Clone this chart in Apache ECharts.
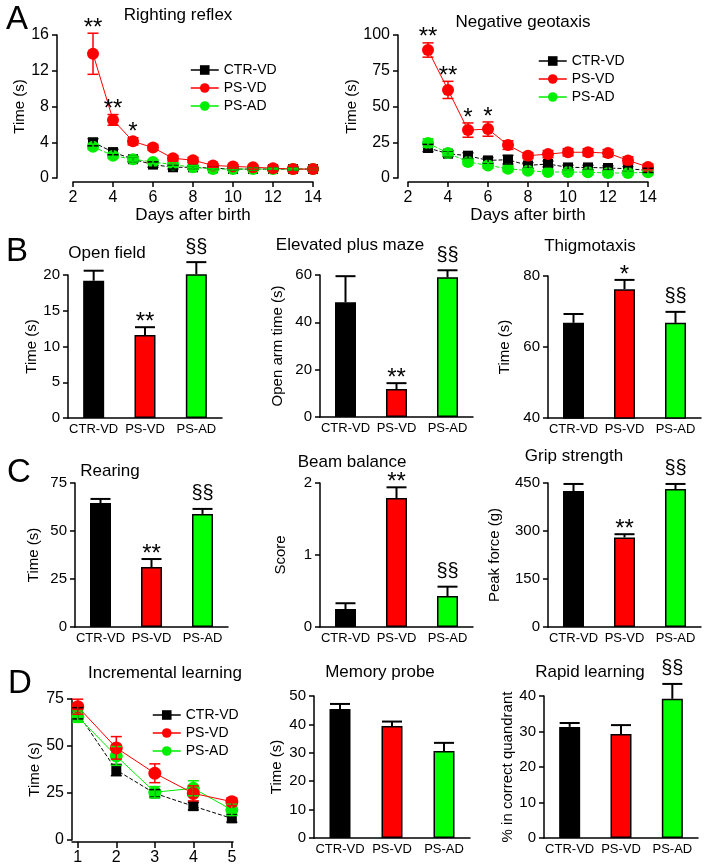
<!DOCTYPE html>
<html>
<head>
<meta charset="utf-8">
<script src="https://cdn.jsdelivr.net/npm/echarts@6/dist/echarts.min.js"></script>
<style>
html, body { margin: 0; background: #fff; }
#chart { width: 705px; height: 866px; }
</style>
</head>
<body>
<div id="chart"></div>
<script>
var groups = ['CTR-VD', 'PS-VD', 'PS-AD'];
var groupColors = ['#000000', '#ff0000', '#00ff00'];

// A - developmental reflexes, days after birth
var days = [3, 4, 5, 6, 7, 8, 9, 10, 11, 12, 13, 14];
var rrCtr = [4.0, 2.9, 2.1, 1.5, 1.2, 1.2, 1.1, 1.0, 1.0, 1.0, 1.0, 1.0];
var rrCtrErr = [0.4, 0.3, 0.3, 0.3, 0.2, 0.2, 0.1, 0.1, 0.1, 0.1, 0.1, 0.1];
var rrPsvd = [13.9, 6.5, 4.1, 3.4, 2.2, 2.0, 1.4, 1.3, 1.2, 1.1, 1.0, 1.0];
var rrPsvdErr = [2.3, 0.6, 0.4, 0.3, 0.3, 0.3, 0.2, 0.2, 0.2, 0.3, 0.3, 0.1];
var rrPsad = [3.5, 2.5, 2.1, 1.8, 1.5, 1.2, 1.0, 1.0, 1.0, 1.0, 1.0, 1.0];
var rrPsadErr = [0.3, 0.3, 0.3, 0.2, 0.2, 0.2, 0.1, 0.1, 0.1, 0.1, 0.1, 0.1];
var rrSig = ['**', '**', '*', '', '', '', '', '', '', '', '', ''];

var ngCtr = [21.0, 17.0, 15.6, 12.3, 12.8, 8.8, 9.8, 7.4, 7.4, 7.0, 6.5, 5.3];
var ngCtrErr = [2.5, 2.0, 2.0, 2.0, 3.0, 2.0, 2.0, 1.5, 1.5, 1.5, 1.5, 1.5];
var ngPsvd = [89.5, 61.6, 33.5, 34.2, 23.0, 15.6, 16.7, 18.0, 18.0, 17.4, 12.3, 7.7];
var ngPsvdErr = [5.0, 6.0, 5.0, 5.0, 3.0, 2.0, 2.5, 2.5, 2.5, 2.5, 2.5, 2.0];
var ngPsad = [24.4, 17.4, 11.2, 8.8, 6.5, 5.1, 4.2, 4.2, 4.0, 3.5, 3.5, 4.0];
var ngPsadErr = [3.0, 2.0, 2.0, 2.0, 2.0, 1.5, 1.5, 1.5, 1.5, 1.5, 1.5, 1.5];
var ngSig = ['**', '**', '*', '*', '', '', '', '', '', '', '', ''];

// B
var openField = [19.2, 11.6, 20.1];
var openFieldErr = [1.4, 1.1, 1.7];
var openFieldSig = ['', '**', '§§'];
var plusMaze = [48.5, 11.8, 59.0];
var plusMazeErr = [11.0, 2.5, 3.0];
var plusMazeSig = ['', '**', '§§'];
var thigmo = [66.8, 76.3, 66.8];
var thigmoErr = [2.5, 2.6, 3.1];
var thigmoSig = ['', '*', '§§'];

// C
var rearing = [64.6, 31.2, 58.9];
var rearingErr = [2.1, 4.2, 2.6];
var rearingSig = ['', '**', '§§'];
var beam = [0.25, 1.79, 0.43];
var beamErr = [0.08, 0.15, 0.13];
var beamSig = ['', '**', '§§'];
var grip = [425, 280, 431];
var gripErr = [22, 10, 16];
var gripSig = ['', '**', '§§'];

// D
var trials = [1, 2, 3, 4, 5];
var incCtr = [67.4, 37.2, 24.8, 18.0, 11.5];
var incCtrErr = [3.0, 3.0, 2.0, 2.0, 2.0];
var incPsvd = [70.9, 49.0, 35.5, 24.8, 20.4];
var incPsvdErr = [4.0, 6.0, 5.0, 4.0, 2.0];
var incPsad = [65.6, 44.7, 25.4, 27.5, 16.0];
var incPsadErr = [3.0, 5.0, 3.0, 4.0, 3.0];
var memory = [45.4, 39.4, 30.6];
var memoryErr = [1.8, 1.6, 2.9];
var memorySig = ['', '', ''];
var rapid = [31.3, 29.3, 39.2];
var rapidErr = [1.1, 2.5, 4.2];
var rapidSig = ['', '', '§§'];

var FONT = 'Arial, "Liberation Sans", sans-serif';
var grids = [], xAxes = [], yAxes = [], series = [], graphics = [];

function axisBase(fontSize) {
	return {
		axisLine: { show: true, onZero: false, lineStyle: { color: '#000', width: 1.5 } },
		axisTick: { show: true, length: 5, lineStyle: { color: '#000', width: 1.5 } },
		axisLabel: { color: '#000', fontFamily: FONT, fontSize: fontSize },
		splitLine: { show: false },
		nameTextStyle: { color: '#000', fontFamily: FONT, fontSize: 15 }
	};
}

function errorSeries(gi, data, sigs, color, both, cap, width) {
	return {
		type: 'custom',
		xAxisIndex: gi,
		yAxisIndex: gi,
		silent: true,
		z: 4,
		data: data,
		renderItem: function(params, api) {
			var x = api.value(0), m = api.value(1), e = api.value(2);
			var top = api.coord([x, m + e]);
			var bot = api.coord([x, both ? m - e : m]);
			var st = { stroke: color, lineWidth: width };
			var kids = [
				{ type: 'line', shape: { x1: top[0], y1: top[1], x2: bot[0], y2: bot[1] }, style: st },
				{ type: 'line', shape: { x1: top[0] - cap / 2, y1: top[1], x2: top[0] + cap / 2, y2: top[1] }, style: st }
			];
			if (both) {
				kids.push({ type: 'line', shape: { x1: bot[0] - cap / 2, y1: bot[1], x2: bot[0] + cap / 2, y2: bot[1] }, style: st });
			}
			var s = sigs ? sigs[params.dataIndex] : '';
			if (s) {
				var star = s.charAt(0) == '*';
				kids.push({
					type: 'text',
					style: {
						text: s, x: top[0], y: top[1] - (star ? 5 : 15),
						align: 'center', verticalAlign: 'middle',
						font: (star ? '24px ' : '20px ') + FONT, fill: '#000'
					}
				});
			}
			return { type: 'group', children: kids };
		}
	};
}

function linePanel(gi, box, xOpt, yOpt, lines) {
	grids.push({ left: box[0], top: box[1], width: box[2], height: box[3], containLabel: false, outerBoundsMode: 'none' });
	xAxes.push(Object.assign(axisBase(16), { gridIndex: gi, type: 'value' }, xOpt));
	yAxes.push(Object.assign(axisBase(16), { gridIndex: gi, type: 'value', nameLocation: 'middle' }, yOpt));
	lines.forEach(function(l) {
		series.push({
			type: 'line', name: l.name, xAxisIndex: gi, yAxisIndex: gi, z: 3,
			data: l.xs.map(function(x, i) { return [x, l.ys[i]]; }),
			symbol: l.symbol, symbolSize: l.size,
			itemStyle: { color: l.color },
			lineStyle: { color: l.color, width: 1, type: l.dashed ? 'dashed' : 'solid' }
		});
		series.push(errorSeries(gi, l.xs.map(function(x, i) { return [x, l.ys[i], l.errs[i]]; }),
			l.sigs, l.color, true, 11, 1.5));
	});
}

function barPanel(gi, box, yOpt, values, errs, sigs) {
	grids.push({ left: box[0], top: box[1], width: box[2], height: box[3], containLabel: false, outerBoundsMode: 'none' });
	var xa = Object.assign(axisBase(13), { gridIndex: gi, type: 'category', data: groups });
	xa.axisTick = { show: false };
	xa.axisLabel.margin = 5;
	xa.axisLabel.interval = 0;
	xa.axisLabel.hideOverlap = false;
	xAxes.push(xa);
	yAxes.push(Object.assign(axisBase(15), { gridIndex: gi, type: 'value', nameLocation: 'middle' }, yOpt));
	series.push({
		type: 'bar', xAxisIndex: gi, yAxisIndex: gi, barWidth: 21, z: 2,
		itemStyle: { borderColor: '#000', borderWidth: 1.5 },
		data: values.map(function(v, i) { return { value: v, itemStyle: { color: groupColors[i] } }; })
	});
	series.push(errorSeries(gi, values.map(function(v, i) { return [i, v, errs[i]]; }), sigs, '#000', false, 20, 2));
}

// A
linePanel(0, [73, 35, 240, 143],
	{ min: 2, max: 14, interval: 2, offset: 4, name: 'Days after birth', nameLocation: 'middle', nameGap: 23,
	  nameTextStyle: { color: '#000', fontFamily: FONT, fontSize: 17 } },
	{ min: 0, max: 16, interval: 4, offset: 16, name: 'Time (s)', nameGap: 28 },
	[
		{ name: 'CTR-VD', xs: days, ys: rrCtr, errs: rrCtrErr, color: '#000', symbol: 'rect', size: 10, dashed: true },
		{ name: 'PS-AD', xs: days, ys: rrPsad, errs: rrPsadErr, color: '#00ee00', symbol: 'circle', size: 12, dashed: true },
		{ name: 'PS-VD', xs: days, ys: rrPsvd, errs: rrPsvdErr, sigs: rrSig, color: '#ff0000', symbol: 'circle', size: 12 }
	]);
linePanel(1, [408, 35, 240, 143],
	{ min: 2, max: 14, interval: 2, offset: 4, name: 'Days after birth', nameLocation: 'middle', nameGap: 23,
	  nameTextStyle: { color: '#000', fontFamily: FONT, fontSize: 17 } },
	{ min: 0, max: 100, interval: 25, offset: 10, name: 'Time (s)', nameGap: 38 },
	[
		{ name: 'CTR-VD', xs: days, ys: ngCtr, errs: ngCtrErr, color: '#000', symbol: 'rect', size: 10, dashed: true },
		{ name: 'PS-AD', xs: days, ys: ngPsad, errs: ngPsadErr, color: '#00ee00', symbol: 'circle', size: 12, dashed: true },
		{ name: 'PS-VD', xs: days, ys: ngPsvd, errs: ngPsvdErr, sigs: ngSig, color: '#ff0000', symbol: 'circle', size: 12 }
	]);

// B
barPanel(2, [68, 275, 154, 143], { min: 0, max: 20, interval: 5, name: 'Time (s)', nameGap: 28 }, openField, openFieldErr, openFieldSig);
barPanel(3, [320, 275, 153, 142], { min: 0, max: 60, interval: 20, name: 'Open arm time (s)', nameGap: 35 }, plusMaze, plusMazeErr, plusMazeSig);
barPanel(4, [548, 276, 153, 142], { min: 40, max: 80, interval: 20, name: 'Time (s)', nameGap: 36 }, thigmo, thigmoErr, thigmoSig);

// C
barPanel(5, [75, 483, 153, 144], { min: 0, max: 75, interval: 25, name: 'Time (s)', nameGap: 34 }, rearing, rearingErr, rearingSig);
barPanel(6, [320, 483, 153, 144], { min: 0, max: 2, interval: 1, name: 'Score', nameGap: 32 }, beam, beamErr, beamSig);
barPanel(7, [548, 483, 153, 144], { min: 0, max: 450, interval: 150, name: 'Peak force (g)', nameGap: 46 }, grip, gripErr, gripSig);

// D
linePanel(8, [72, 699, 161, 141],
	{ min: 0.85, max: 5.03, offset: 2, axisTick: { show: true, length: 6, customValues: trials, lineStyle: { color: '#000', width: 1.5 } },
	  axisLabel: { color: '#000', fontFamily: FONT, fontSize: 16, margin: 8, customValues: trials } },
	{ min: 0, max: 75, interval: 25, name: 'Time (s)', nameGap: 30 },
	[
		{ name: 'CTR-VD', xs: trials, ys: incCtr, errs: incCtrErr, color: '#000', symbol: 'rect', size: 10, dashed: true },
		{ name: 'PS-AD', xs: trials, ys: incPsad, errs: incPsadErr, color: '#00ee00', symbol: 'circle', size: 13 },
		{ name: 'PS-VD', xs: trials, ys: incPsvd, errs: incPsvdErr, color: '#ff0000', symbol: 'circle', size: 13 }
	]);
barPanel(9, [314, 696, 156, 142], { min: 0, max: 50, interval: 10, name: 'Time (s)', nameGap: 30 }, memory, memoryErr, memorySig);
barPanel(10, [544, 696, 154, 142], { min: 0, max: 40, interval: 10, name: '% in correct quandrant', nameGap: 28 }, rapid, rapidErr, rapidSig);

function label(text, x, y, size) {
	graphics.push({ type: 'text', x: x, y: y, style: { text: text, align: 'center', verticalAlign: 'middle', font: size + 'px ' + FONT, fill: '#000' } });
}
label('A', 17, 20, 33);
label('B', 17, 252, 33);
label('C', 19, 473, 33);
label('D', 20, 684, 33);
label('Righting reflex', 178, 15, 17);
label('Negative geotaxis', 523, 22, 17);
label('Open field', 107, 253, 17);
label('Elevated plus maze', 350, 245, 17);
label('Thigmotaxis', 590, 246, 17);
label('Rearing', 110, 471, 17);
label('Beam balance', 352, 462, 17);
label('Grip strength', 574, 456, 17);
label('Incremental learning', 165, 673, 17);
label('Memory probe', 380, 672, 17);
label('Rapid learning', 590, 672, 17);

function legendAt(left, top) {
	return {
		data: groups, orient: 'vertical', left: left, top: top,
		itemWidth: 28, itemHeight: 12, itemGap: 4,
		lineStyle: { type: 'solid', width: 1.5 },
		textStyle: { color: '#000', fontFamily: FONT, fontSize: 14 }
	};
}

var chart = echarts.init(document.getElementById('chart'));
chart.setOption({
	animation: false,
	backgroundColor: '#fff',
	grid: grids,
	xAxis: xAxes,
	yAxis: yAxes,
	legend: [legendAt(185, 58), legendAt(533, 49), legendAt(147, 703)],
	graphic: graphics,
	series: series
});
</script>
</body>
</html>
